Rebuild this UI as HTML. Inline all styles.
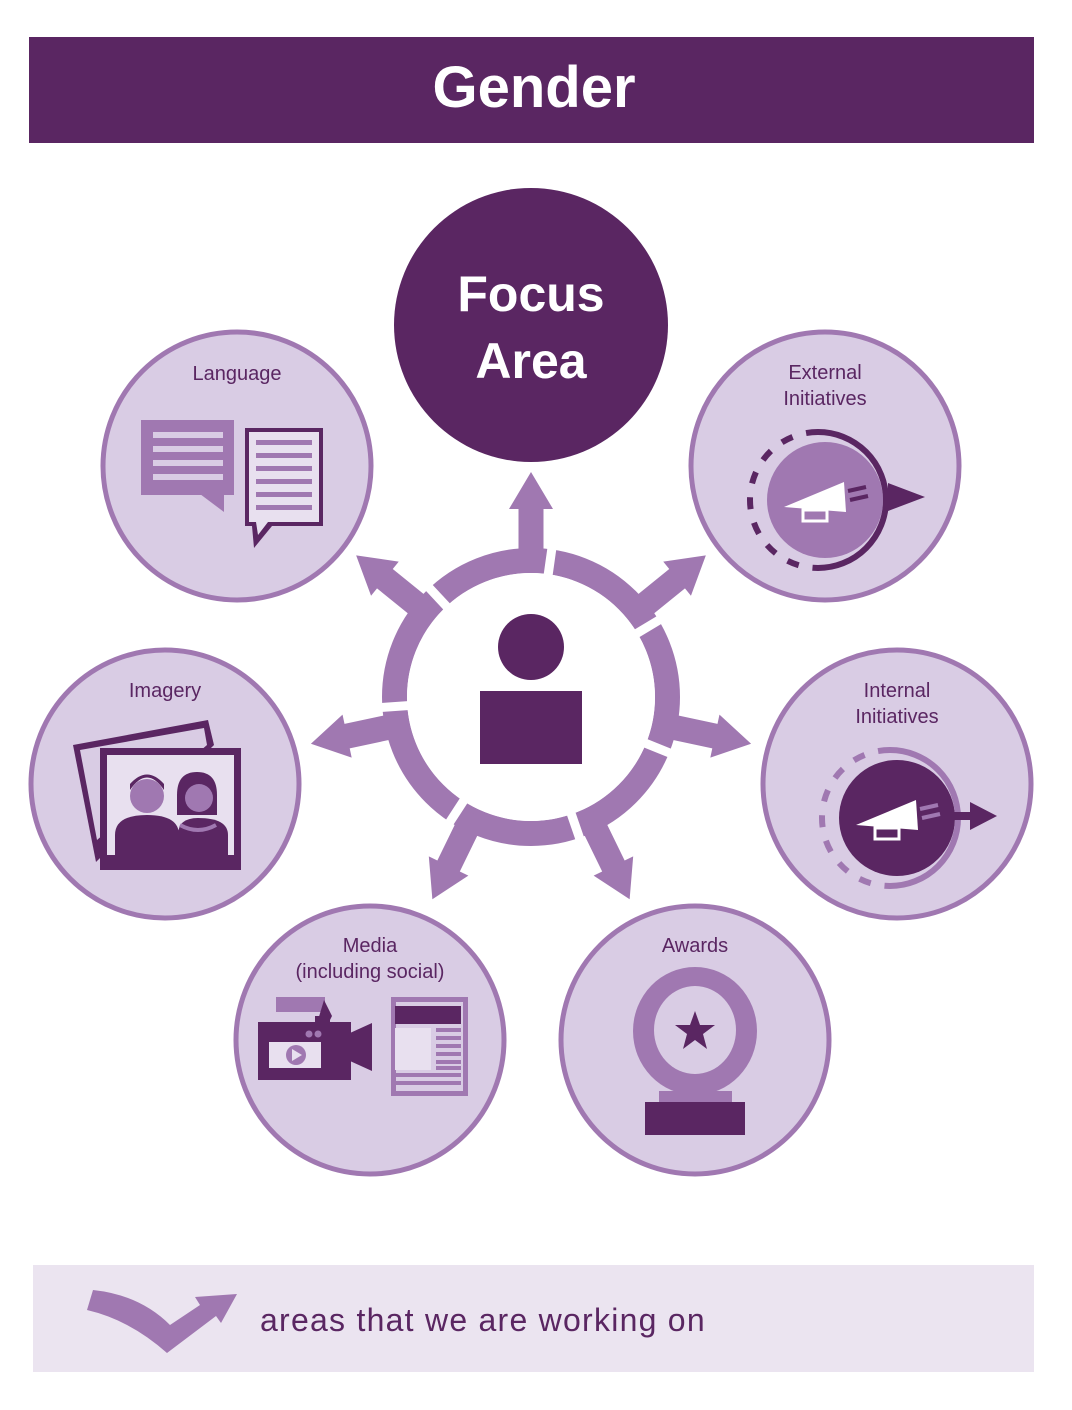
<!DOCTYPE html>
<html><head><meta charset="utf-8"><style>
html,body{margin:0;padding:0;background:#fff}
svg{display:block}
text{font-family:"Liberation Sans",sans-serif}
</style></head><body>
<svg width="1072" height="1410" viewBox="0 0 1072 1410" xmlns="http://www.w3.org/2000/svg">
<rect x="29" y="37" width="1005" height="106" fill="#5a2662"/>
<text x="534" y="107" text-anchor="middle" font-size="58" font-weight="bold" fill="#fff">Gender</text>

<!-- center ring -->
<g fill="#a078b1">
<circle cx="531" cy="697" r="136.5" fill="none" stroke="#a078b1" stroke-width="25"/>
<g id="arr"><polygon points="-12.5,-130 12.5,-130 12.5,-188 22,-188 0,-225 -22,-188 -12.5,-188"/></g>
<use href="#arr" transform="translate(531,697)"/>
<use href="#arr" transform="translate(531,697) rotate(51)"/>
<use href="#arr" transform="translate(531,697) rotate(102)"/>
<use href="#arr" transform="translate(531,697) rotate(154)"/>
<use href="#arr" transform="translate(531,697) rotate(206)"/>
<use href="#arr" transform="translate(531,697) rotate(258)"/>
<use href="#arr" transform="translate(531,697) rotate(309)"/>
</g>
<g stroke="#fff" stroke-width="9">
<line x1="531" y1="697" x2="531" y2="530" transform="rotate(8 531 697)"/>
<line x1="531" y1="697" x2="531" y2="530" transform="rotate(59 531 697)"/>
<line x1="531" y1="697" x2="531" y2="530" transform="rotate(112 531 697)"/>
<line x1="531" y1="697" x2="531" y2="530" transform="rotate(161 531 697)"/>
<line x1="531" y1="697" x2="531" y2="530" transform="rotate(213 531 697)"/>
<line x1="531" y1="697" x2="531" y2="530" transform="rotate(266 531 697)"/>
<line x1="531" y1="697" x2="531" y2="530" transform="rotate(317 531 697)"/>
</g>
<circle cx="531" cy="697" r="124" fill="#fff"/>
<circle cx="531" cy="647" r="33" fill="#5a2662"/>
<rect x="480" y="691" width="102" height="73" fill="#5a2662"/>

<!-- focus -->
<circle cx="531" cy="325" r="137" fill="#5a2662"/>
<text x="531" y="311" text-anchor="middle" font-size="50" font-weight="bold" fill="#fff">Focus</text>
<text x="531" y="378" text-anchor="middle" font-size="50" font-weight="bold" fill="#fff">Area</text>

<g fill="#d9cce4" stroke="#a078b1" stroke-width="5">
<circle cx="237" cy="466" r="134"/>
<circle cx="825" cy="466" r="134"/>
<circle cx="165" cy="784" r="134"/>
<circle cx="897" cy="784" r="134"/>
<circle cx="370" cy="1040" r="134"/>
<circle cx="695" cy="1040" r="134"/>
</g>
<g font-size="20" fill="#5a2662" text-anchor="middle">
<text x="237" y="380">Language</text>
<text x="825" y="379">External</text><text x="825" y="405">Initiatives</text>
<text x="165" y="697">Imagery</text>
<text x="897" y="697">Internal</text><text x="897" y="723">Initiatives</text>
<text x="370" y="952">Media</text><text x="370" y="978">(including social)</text>
<text x="695" y="952">Awards</text>
</g>

<!-- language icon -->
<rect x="141" y="420" width="93" height="75" fill="#a078b1"/>
<polygon points="200,494 224,494 224,512" fill="#a078b1"/>
<g fill="#d9cce4"><rect x="153" y="432" width="70" height="6"/><rect x="153" y="446" width="70" height="6"/><rect x="153" y="460" width="70" height="6"/><rect x="153" y="474" width="70" height="6"/></g>
<rect x="245" y="428" width="78" height="98" fill="#5a2662"/>
<polygon points="252,526 272,526 254,548" fill="#5a2662"/>
<rect x="249" y="432" width="70" height="90" fill="#e8e0ef"/>
<polygon points="256,522 268,522 258,535" fill="#e8e0ef"/>
<g fill="#a078b1"><rect x="256" y="440" width="56" height="5"/><rect x="256" y="453" width="56" height="5"/><rect x="256" y="466" width="56" height="5"/><rect x="256" y="479" width="56" height="5"/><rect x="256" y="492" width="56" height="5"/><rect x="256" y="505" width="56" height="5"/></g>

<!-- external icon -->
<circle cx="825" cy="500" r="58" fill="#a078b1"/>
<path d="M818 432 A68 68 0 0 1 818 568" fill="none" stroke="#5a2662" stroke-width="6"/>
<path d="M818 432 A68 68 0 0 0 818 568" fill="none" stroke="#5a2662" stroke-width="6" stroke-dasharray="12 14"/>
<polygon points="888,483 925,497 888,511" fill="#5a2662"/>
<polygon points="784,507 844,482 846,512" fill="#fff"/>
<rect x="803" y="510" width="24" height="11" fill="none" stroke="#fff" stroke-width="3"/>
<g stroke="#5a2662" stroke-width="4"><line x1="848" y1="491" x2="866" y2="487"/><line x1="850" y1="500" x2="868" y2="496"/></g>

<!-- internal icon -->
<circle cx="897" cy="818" r="58" fill="#5a2662"/>
<path d="M890 750 A68 68 0 0 1 890 886" fill="none" stroke="#a078b1" stroke-width="6"/>
<path d="M890 750 A68 68 0 0 0 890 886" fill="none" stroke="#a078b1" stroke-width="6" stroke-dasharray="12 14"/>
<rect x="952" y="812" width="20" height="8" fill="#5a2662"/>
<polygon points="970,802 997,816 970,830" fill="#5a2662"/>
<polygon points="856,825 916,800 918,830" fill="#fff"/>
<rect x="875" y="828" width="24" height="11" fill="none" stroke="#fff" stroke-width="3"/>
<g stroke="#a078b1" stroke-width="4"><line x1="920" y1="809" x2="938" y2="805"/><line x1="922" y1="818" x2="940" y2="814"/></g>

<!-- imagery icon -->
<polygon points="73,745 208,720 214,745 96,862" fill="#5a2662"/>
<polygon points="80,750 204,728 207,745 97,840" fill="#d9cce4"/>
<rect x="100" y="748" width="141" height="122" fill="#5a2662"/>
<rect x="107" y="755" width="127" height="100" fill="#e8e0ef"/>
<circle cx="147" cy="796" r="17" fill="#a078b1"/>
<path d="M130 790 Q147 765 164 790 L164 784 Q147 765 130 784Z" fill="#5a2662"/>
<path d="M115 855 L115 835 Q115 815 147 815 Q179 815 179 835 L179 855Z" fill="#5a2662"/>
<circle cx="197" cy="796" r="17" fill="#a078b1"/>
<path d="M177 815 L177 795 Q177 772 197 772 Q217 772 217 795 L217 815Z" fill="#5a2662"/>
<circle cx="199" cy="798" r="14" fill="#a078b1"/>
<path d="M178 855 L178 835 Q178 818 198 818 Q228 818 228 835 L228 855Z" fill="#5a2662"/>
<path d="M180 825 Q198 835 216 825" fill="none" stroke="#a078b1" stroke-width="4"/>

<!-- media icon -->
<rect x="276" y="997" width="49" height="15" fill="#a078b1"/>
<polygon points="324,1000 332,1016 330,1020 318,1020" fill="#5a2662"/>
<rect x="315" y="1016" width="15" height="10" fill="#5a2662"/>
<rect x="258" y="1022" width="93" height="58" fill="#5a2662"/>
<polygon points="350,1033 372,1023 372,1071 350,1061" fill="#5a2662"/>
<rect x="269" y="1042" width="52" height="26" fill="#e8e0ef"/>
<circle cx="296" cy="1055" r="10" fill="#a078b1"/>
<polygon points="292,1049 302,1055 292,1061" fill="#e8e0ef"/>
<circle cx="309" cy="1034" r="3.5" fill="#a078b1"/><circle cx="318" cy="1034" r="3.5" fill="#a078b1"/>
<rect x="391" y="997" width="77" height="99" fill="#a078b1"/>
<rect x="396" y="1002" width="67" height="89" fill="#d9cce4"/>
<rect x="395" y="1006" width="66" height="18" fill="#5a2662"/>
<rect x="395" y="1028" width="36" height="42" fill="#e8e0ef"/>
<g fill="#a078b1"><rect x="436" y="1028" width="25" height="4"/><rect x="436" y="1036" width="25" height="4"/><rect x="436" y="1044" width="25" height="4"/><rect x="436" y="1052" width="25" height="4"/><rect x="436" y="1060" width="25" height="4"/><rect x="436" y="1066" width="25" height="4"/><rect x="395" y="1073" width="66" height="4"/><rect x="395" y="1081" width="66" height="4"/></g>

<!-- awards icon -->
<ellipse cx="695" cy="1031" rx="62" ry="64" fill="#a078b1"/>
<ellipse cx="695" cy="1030" rx="41" ry="44" fill="#d9cce4"/>
<polygon points="695,1011 700,1025 715,1025 703,1034 707,1049 695,1040 683,1049 687,1034 675,1025 690,1025" fill="#5a2662"/>
<rect x="659" y="1091" width="73" height="13" fill="#a078b1"/>
<rect x="645" y="1102" width="100" height="33" fill="#5a2662"/>

<!-- footer -->
<rect x="33" y="1265" width="1001" height="107" fill="#ebe4f0"/>
<path d="M93 1290 Q140 1295 170 1325 L200 1305 L195 1297 L237 1294 L221 1323 L216 1316 L167 1353 Q130 1320 87 1310Z" fill="#a078b1"/>
<text x="260" y="1331" font-size="32" fill="#5a2662" letter-spacing="1.25">areas that we are working on</text>
</svg>
</body></html>
